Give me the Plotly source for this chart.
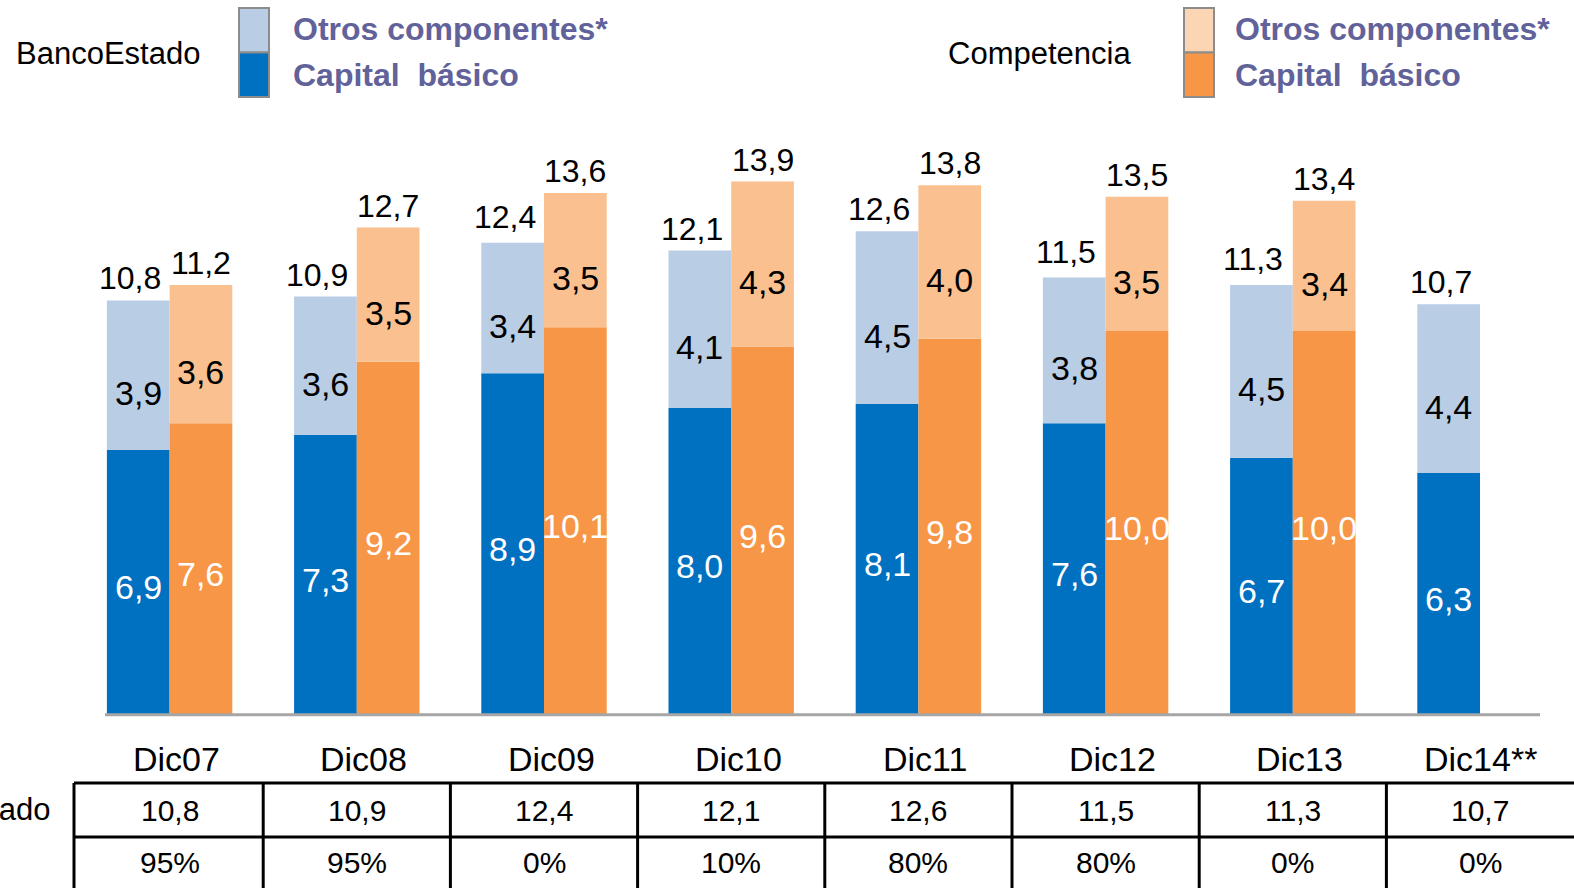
import plotly.graph_objects as go

# datos
categorias = ['Dic07', 'Dic08', 'Dic09', 'Dic10', 'Dic11', 'Dic12', 'Dic13', 'Dic14**']
be_basico = [6.9, 7.3, 8.9, 8.0, 8.1, 7.6, 6.7, 6.3]
be_otros = [3.9, 3.6, 3.4, 4.1, 4.5, 3.8, 4.5, 4.4]
be_total = [10.8, 10.9, 12.4, 12.1, 12.6, 11.5, 11.3, 10.7]
comp_basico = [7.6, 9.2, 10.1, 9.6, 9.8, 10.0, 10.0, None]
comp_otros = [3.6, 3.5, 3.5, 4.3, 4.0, 3.5, 3.4, None]
comp_total = [11.2, 12.7, 13.6, 13.9, 13.8, 13.5, 13.4, None]
fila_be = ['10,8', '10,9', '12,4', '12,1', '12,6', '11,5', '11,3', '10,7']
fila_pct = ['95%', '95%', '0%', '10%', '80%', '80%', '0%', '0%']

AZUL = '#0070C0'
AZUL_CLARO = '#B9CDE5'
NARANJA = '#F79646'
NARANJA_CLARO = '#FAC090'
NARANJA_LEYENDA = '#FCD5B5'
LILA = '#62629A'
FONT = 'Arial, Liberation Sans, sans-serif'

W, H = 1574, 888
X0, DX = 169.6, 187.2      # px del centro de la primera categoria, px entre categorias
Y0, DY = 714.7, 38.36      # px de la base, px por unidad
BW = 0.335


def fmt(v):
    return '' if v is None else f'{v:.1f}'.replace('.', ',')


def px(p):
    return (p - X0) / DX


def py(p):
    return 1 - p / H


xs = list(range(len(categorias)))

fig = go.Figure()


def barra(y, base, color, offset):
    fig.add_trace(go.Bar(
        x=xs, y=y, base=base, width=BW, offset=offset,
        marker=dict(color=color, line=dict(width=0)),
        hoverinfo='skip'))


barra(be_basico, None, AZUL, -BW)
barra(be_otros, be_basico, AZUL_CLARO, -BW)
barra(comp_basico, None, NARANJA, 0)
barra(comp_otros, comp_basico, NARANJA_CLARO, 0)

ann = []


def etiqueta(x, y, text, size, color='black', xref='x', yref='y', xanchor='center',
             yanchor='middle', xshift=0, yshift=0, bold=False):
    if bold:
        text = '<b>' + text + '</b>'
    ann.append(dict(x=x, y=y, text=text, xref=xref, yref=yref, showarrow=False,
                    xanchor=xanchor, yanchor=yanchor, xshift=xshift, yshift=yshift,
                    font=dict(size=size, color=color)))


for i in xs:
    xb, xc = i - BW / 2, i + BW / 2
    # dentro de las barras
    etiqueta(xb, be_basico[i] / 2, fmt(be_basico[i]), 34, 'white', yshift=-5)
    etiqueta(xb, be_basico[i] + be_otros[i] / 2, fmt(be_otros[i]), 34, yshift=-18)
    etiqueta(xb, be_total[i], fmt(be_total[i]), 32, yanchor='bottom', xshift=-8, yshift=2)
    if comp_total[i] is not None:
        etiqueta(xc, comp_basico[i] / 2, fmt(comp_basico[i]), 34, 'white', yshift=-5)
        etiqueta(xc, comp_basico[i] + comp_otros[i] / 2, fmt(comp_otros[i]), 34, yshift=-18)
        etiqueta(xc, comp_total[i], fmt(comp_total[i]), 32, yanchor='bottom', yshift=2)
    # tabla
    etiqueta(i, py(759), categorias[i], 34, yref='paper', xshift=7 if i < 7 else 0)
    etiqueta(i, py(810), fila_be[i], 30, yref='paper')
    etiqueta(i, py(862), fila_pct[i], 30, yref='paper')

etiqueta(52 / W, py(809), 'BancoEstado', 31, xref='paper', yref='paper', xanchor='right')

# leyendas
for nombre, xn, xt in [('BancoEstado', 14, 291), ('Competencia', 946, 1233)]:
    etiqueta(xn / W, py(53), nombre, 31, xref='paper', yref='paper', xanchor='left')
    etiqueta(xt / W, py(29), 'Otros componentes*', 32, LILA, xref='paper', yref='paper',
             xanchor='left', bold=True)
    etiqueta(xt / W, py(75), 'Capital\u00a0 básico', 32, LILA, xref='paper', yref='paper',
             xanchor='left', bold=True)

shapes = []
for xa, claro, oscuro in [(239, AZUL_CLARO, AZUL), (1184, NARANJA_LEYENDA, NARANJA)]:
    shapes.append(dict(type='rect', xref='paper', yref='paper', x0=xa / W, x1=(xa + 30) / W,
                       y0=py(52.5), y1=py(8), fillcolor=claro, line=dict(color='#8C8C8C', width=2)))
    shapes.append(dict(type='rect', xref='paper', yref='paper', x0=xa / W, x1=(xa + 30) / W,
                       y0=py(97), y1=py(52.5), fillcolor=oscuro, line=dict(color='#8C8C8C', width=2)))

# eje
shapes.append(dict(type='line', xref='x', yref='y', x0=px(105), x1=px(1540), y0=0, y1=0,
                   line=dict(color='#A6A6A6', width=3)))

# tabla
for yl in [783, 837]:
    shapes.append(dict(type='line', xref='x', yref='paper', x0=px(74), x1=px(W + 10),
                       y0=py(yl), y1=py(yl), line=dict(color='black', width=3)))
for xv in [px(74)] + [i + 0.5 for i in xs[:-1]]:
    shapes.append(dict(type='line', xref='x', yref='paper', x0=xv, x1=xv,
                       y0=py(783), y1=py(H + 10), line=dict(color='black', width=3)))

fig.update_layout(
    width=W, height=H,
    margin=dict(l=0, r=0, t=0, b=0),
    paper_bgcolor='white', plot_bgcolor='white',
    barmode='overlay', showlegend=False,
    font=dict(family=FONT, color='black'),
    xaxis=dict(range=[px(0), px(W)], visible=False, fixedrange=True),
    yaxis=dict(range=[(Y0 - H) / DY, Y0 / DY], visible=False, fixedrange=True),
    annotations=ann, shapes=shapes,
)

fig.write_html("out.html", config={'displayModeBar': False},
               post_script="document.body.style.margin='0';")
